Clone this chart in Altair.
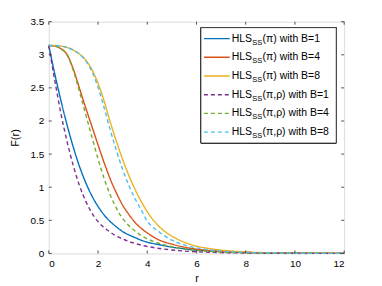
import altair as alt
import pandas as pd

# ---------------- data ----------------
r = [0, 0.25, 0.5, 0.75, 1.0, 1.25, 1.5, 1.75, 2.0, 2.25, 2.5, 2.75, 3.0, 3.25,
     3.5, 3.75, 4.0, 4.5, 5.0, 5.5, 6.0, 6.5, 7, 8, 9, 10, 11, 12]

hls_b1 = [3.14, 2.70, 2.30, 1.93, 1.60, 1.31, 1.07, 0.87, 0.71, 0.58, 0.48, 0.40, 0.33, 0.28,
          0.24, 0.20, 0.17, 0.13, 0.095, 0.07, 0.05, 0.038, 0.028, 0.015, 0.008, 0.004, 0.002, 0.001]
hls_b4 = [3.14, 3.13, 3.09, 3.00, 2.78, 2.49, 2.20, 1.92, 1.64, 1.37, 1.12, 0.91, 0.73, 0.59,
          0.47, 0.38, 0.31, 0.20, 0.14, 0.095, 0.065, 0.045, 0.03, 0.015, 0.008, 0.004, 0.002, 0.001]
hls_b8 = [3.14, 3.14, 3.13, 3.11, 3.07, 3.01, 2.92, 2.78, 2.57, 2.30, 1.98, 1.69, 1.42, 1.18,
          0.97, 0.79, 0.63, 0.40, 0.26, 0.17, 0.11, 0.075, 0.05, 0.022, 0.010, 0.005, 0.0025, 0.0012]
rho_b1 = [3.14, 2.60, 2.10, 1.68, 1.32, 1.02, 0.79, 0.61, 0.48, 0.39, 0.32, 0.26, 0.22, 0.18,
          0.15, 0.125, 0.105, 0.075, 0.052, 0.036, 0.025, 0.018, 0.012, 0.006, 0.003, 0.0015, 0.0008, 0.0004]
rho_b4 = [3.14, 3.13, 3.09, 2.99, 2.76, 2.44, 2.10, 1.76, 1.43, 1.13, 0.88, 0.68, 0.53, 0.42,
          0.34, 0.27, 0.22, 0.15, 0.10, 0.067, 0.045, 0.03, 0.02, 0.01, 0.005, 0.0025, 0.0012, 0.0006]
rho_b8 = [3.14, 3.14, 3.13, 3.11, 3.07, 3.01, 2.91, 2.75, 2.51, 2.20, 1.86, 1.55, 1.27, 1.03,
          0.83, 0.66, 0.49, 0.32, 0.20, 0.13, 0.085, 0.055, 0.035, 0.015, 0.007, 0.0035, 0.0017, 0.0008]

series_keys = ["s1", "s2", "s3", "s4", "s5", "s6"]
series_values = [hls_b1, hls_b4, hls_b8, rho_b1, rho_b4, rho_b8]
legend_main = ["HLS"] * 6
legend_sub = ["SS"] * 6
legend_rest = ["(π) with B=1", "(π) with B=4", "(π) with B=8",
               "(π,ρ) with B=1", "(π,ρ) with B=4", "(π,ρ) with B=8"]
colors = ["#0072BD", "#D95319", "#EDB120", "#7E2F8E", "#77AC30", "#4DBEEE"]
dashes = [[1, 0], [1, 0], [1, 0], [4, 3], [4, 3], [4, 3]]

x_ticks = [0, 2, 4, 6, 8, 10, 12]
y_ticks = [0, 0.5, 1, 1.5, 2, 2.5, 3, 3.5]

# ---------------- tables ----------------
rows = []
for k, vals in zip(series_keys, series_values):
    for rv, fv in zip(r, vals):
        rows.append({"r": rv, "F": fv, "series": k})
df = pd.DataFrame(rows)
df_leg = pd.DataFrame({"series": series_keys, "row": list(range(6)),
                       "main": legend_main, "sub": legend_sub, "rest": legend_rest})
df_xt = pd.DataFrame({"r": x_ticks})
df_yt = pd.DataFrame({"F": y_ticks})

W, H = 297, 233
FONT = "Liberation Sans"
AX = "#262626"

xscale = alt.Scale(domain=[0, 12], nice=False, zero=False)
yscale = alt.Scale(domain=[0, 3.5], nice=False)
color = alt.Color("series:N", scale=alt.Scale(domain=series_keys, range=colors), legend=None)
dash = alt.StrokeDash("series:N", scale=alt.Scale(domain=series_keys, range=dashes), legend=None)

x_axis = alt.Axis(values=x_ticks, tickCount=7, ticks=False, domain=False, grid=False, format="~g",
                  labelPadding=5, title="r", titlePadding=4, labelFontSize=10,
                  labelOverlap=False, titleFontSize=11, titleFontWeight="normal")
y_axis = alt.Axis(values=y_ticks, tickCount=8, ticks=False, domain=False, grid=False, format="~g",
                  labelPadding=5, title="F(r)", titlePadding=10, labelFontSize=10,
                  labelOverlap=False, titleFontSize=11, titleFontWeight="normal")

x_enc = alt.X("r:Q", scale=xscale, axis=x_axis)
y_enc = alt.Y("F:Q", scale=yscale, axis=y_axis)

lines = alt.Chart(df).mark_line(strokeWidth=1.4, interpolate="monotone").encode(
    x=x_enc, y=y_enc, color=color, strokeDash=dash, detail="series:N")

tb = alt.Chart(df_xt).mark_rule(color=AX, strokeWidth=0.8).encode(
    x=x_enc, y=alt.value(H), y2=alt.value(H - 3))
tt = alt.Chart(df_xt).mark_rule(color=AX, strokeWidth=0.8).encode(
    x=x_enc, y=alt.value(0), y2=alt.value(3))
tl = alt.Chart(df_yt).mark_rule(color=AX, strokeWidth=0.8).encode(
    y=y_enc, x=alt.value(0), x2=alt.value(3))
tr = alt.Chart(df_yt).mark_rule(color=AX, strokeWidth=0.8).encode(
    y=y_enc, x=alt.value(W), x2=alt.value(W - 3))

main = alt.layer(lines, tb, tt, tl, tr)

# ---------------- legend ----------------
row_y = alt.Y("row:O", scale=alt.Scale(type="point", domain=list(range(6)), range=[17, 111],
                                      padding=0), axis=None)
leg_box = alt.Chart(df_leg).mark_rect(fill="white", stroke=AX, strokeWidth=0.7).encode(
    x=alt.value(153), x2=alt.value(289), y=alt.value(6), y2=alt.value(122))
leg_lines = alt.Chart(df_leg).mark_rule(strokeWidth=1.4).encode(
    x=alt.value(156), x2=alt.value(182), y=row_y, color=color, strokeDash=dash)
leg_main = alt.Chart(df_leg).mark_text(align="left", baseline="middle", font=FONT,
                                       fontSize=10.5, color="black").encode(
    x=alt.value(184), y=row_y, text="main:N")
leg_sub = alt.Chart(df_leg).mark_text(align="left", baseline="middle", font=FONT,
                                      fontSize=7.5, color="black", dy=4).encode(
    x=alt.value(204.5), y=row_y, text="sub:N")
leg_rest = alt.Chart(df_leg).mark_text(align="left", baseline="middle", font=FONT,
                                       fontSize=10.5, color="black").encode(
    x=alt.value(215), y=row_y, text="rest:N")
legend = alt.layer(leg_box, leg_lines, leg_main, leg_sub, leg_rest)

chart = alt.layer(main, legend).resolve_scale(y="independent").properties(
    width=W, height=H,
    padding={"left": 41, "top": 13, "right": 30, "bottom": 30},
    autosize=alt.AutoSizeParams(type="none"),
).configure_view(stroke=AX, strokeWidth=0.8).configure_axis(
    labelFont=FONT, titleFont=FONT, labelColor=AX, titleColor=AX
).configure(background="white")

chart.save("out.html", embed_options={"renderer": "svg", "actions": False})
